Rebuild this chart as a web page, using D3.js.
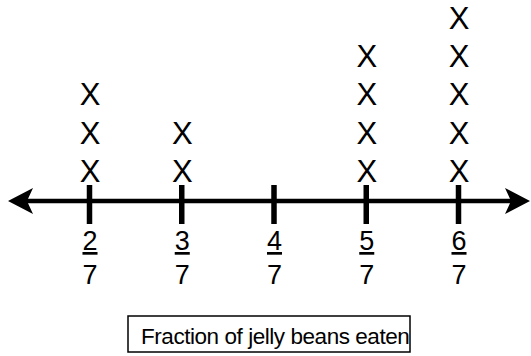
<!DOCTYPE html>
<html>
<head>
<meta charset="utf-8">
<script src="https://cdn.jsdelivr.net/npm/d3@7"></script>
<style>
  html, body { margin: 0; padding: 0; background: #fff; }
  svg { display: block; }
  text { font-family: "Liberation Sans", Arial, Helvetica, sans-serif; fill: #000; }
</style>
</head>
<body>
<svg id="chart" width="531" height="356"></svg>
<script>
// Line plot data: how many students ate each fraction of their jelly beans
const numerators = [2, 3, 4, 5, 6];
const denominator = 7;
const counts = [3, 2, 0, 4, 5];
const axisTitle = "Fraction of jelly beans eaten";

const W = 531, H = 356;
const axisY = 201;
const svg = d3.select("#chart");
svg.append("rect").attr("width", W).attr("height", H).attr("fill", "#fff");

const fracs = numerators.map(n => n / denominator);
const x = d3.scaleLinear().domain([fracs[0], fracs[fracs.length - 1]]).range([89, 458]);

// number line with arrowheads at both ends
svg.append("line")
  .attr("x1", 20).attr("x2", 518)
  .attr("y1", axisY).attr("y2", axisY)
  .attr("stroke", "#000").attr("stroke-width", 4.5);

const head = (tip, dir) => {
  const back = tip + dir * 25, notch = tip + dir * 19;
  return `M${tip},${axisY} L${back},${axisY - 13} L${notch},${axisY} L${back},${axisY + 13} Z`;
};
svg.append("path").attr("d", head(8, 1)).attr("fill", "#000");
svg.append("path").attr("d", head(530, -1)).attr("fill", "#000");

// tick marks crossing the line
const tickAbove = 16, tickBelow = 23;
const axis = d3.axisBottom(x)
  .tickValues(fracs)
  .tickSizeInner(tickAbove + tickBelow)
  .tickSizeOuter(0)
  .tickFormat("");
const gAxis = svg.append("g")
  .attr("transform", `translate(0,${axisY - tickAbove})`)
  .call(axis);
gAxis.select(".domain").remove();
gAxis.selectAll(".tick line").attr("stroke", "#000").attr("stroke-width", 5.5);

// fraction labels: numerator underlined above the denominator
const labels = svg.append("g");
numerators.forEach((n, i) => {
  const cx = x(fracs[i]) + 1;
  labels.append("text")
    .attr("x", cx).attr("y", 250)
    .attr("text-anchor", "middle")
    .attr("font-size", 27)
    .attr("text-decoration", "underline")
    .text(n);
  labels.append("text")
    .attr("x", cx).attr("y", 284)
    .attr("text-anchor", "middle")
    .attr("font-size", 27)
    .text(denominator);
});

// stacked X marks, one per student
const marks = svg.append("g");
counts.forEach((c, i) => {
  d3.range(c).forEach(k => {
    marks.append("text")
      .attr("x", x(fracs[i]) + 1)
      .attr("y", 182 - k * 38.3)
      .attr("text-anchor", "middle")
      .attr("font-size", 31)
      .text("X");
  });
});

// boxed axis title
const box = { x0: 128, x1: 410, y0: 316, y1: 352 };
svg.append("rect")
  .attr("x", box.x0).attr("y", box.y0)
  .attr("width", box.x1 - box.x0).attr("height", box.y1 - box.y0)
  .attr("fill", "none").attr("stroke", "#000").attr("stroke-width", 1.5);
svg.append("text")
  .attr("x", box.x0 + 13).attr("y", 344)
  .attr("font-size", 22.5)
  .attr("letter-spacing", -0.45)
  .text(axisTitle);
</script>
</body>
</html>
